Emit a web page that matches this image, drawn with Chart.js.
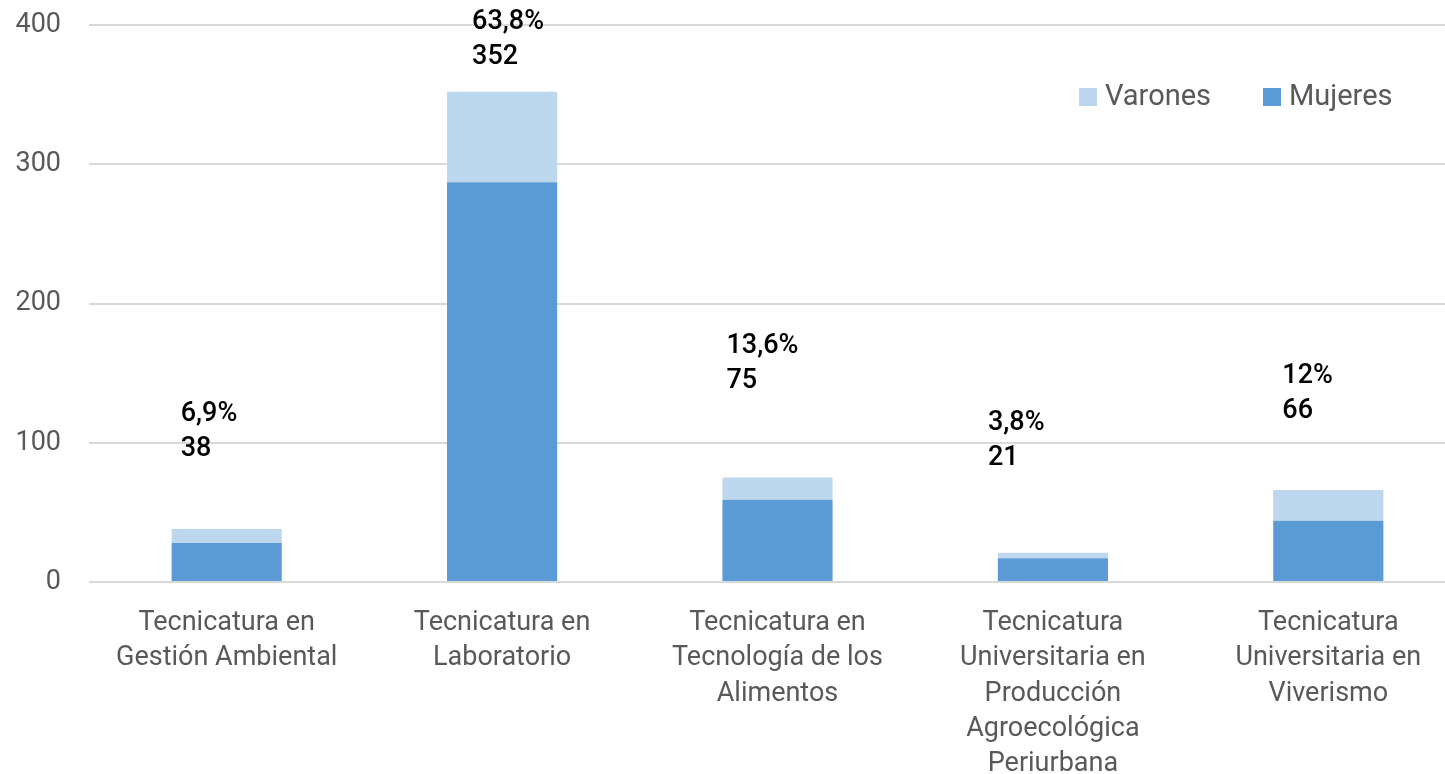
<!DOCTYPE html>
<html>
<head>
<meta charset="utf-8">
<title>Tecnicaturas</title>
<script src="https://cdn.jsdelivr.net/npm/chart.js@4"></script>
<style>
	html, body { margin: 0; padding: 0; background: #fff; overflow: hidden; }
	#Chart_container { width: 1466px; height: 774px; }
</style>
</head>
<body>
<div id="Chart_container">
	<canvas id="myChart"></canvas>
</div>
<script type="text/javascript">
	// datos
	let categorias = [
		["Tecnicatura en", "Gestión Ambiental"],
		["Tecnicatura en", "Laboratorio"],
		["Tecnicatura en", "Tecnología de los", "Alimentos"],
		["Tecnicatura", "Universitaria en", "Producción", "Agroecológica", "Periurbana"],
		["Tecnicatura", "Universitaria en", "Viverismo"]
	];
	let mujeres = [28, 287, 59, 17, 44];
	let varones = [10, 65, 16, 4, 22];
	let totales = [38, 352, 75, 21, 66];
	let porcentajes = ["6,9%", "63,8%", "13,6%", "3,8%", "12%"];
	let yTicks = [0, 100, 200, 300, 400];

	const FONT = "Roboto, 'DejaVu Sans', sans-serif";
	const GRIS = "#595959";

	// etiquetas puestas a mano en el original (desplazamientos en px)
	let etiquetasPlugin = {
		id: 'etiquetas',
		afterDatasetsDraw(chart, args, opts) {
			let ctx = chart.ctx;
			let meta = chart.getDatasetMeta(1);
			ctx.save();
			ctx.fillStyle = "#000";
			ctx.font = "500 27px " + FONT;
			ctx.textAlign = "left";
			ctx.textBaseline = "middle";
			meta.data.forEach(function(bar, i) {
				let x = bar.x + opts.dx[i];
				let y2 = bar.y - opts.dy[i];
				ctx.fillText(porcentajes[i], x, y2 - 35);
				ctx.fillText(String(totales[i]), x, y2);
			});
			ctx.restore();
		}
	};

	let leyendaPlugin = {
		id: 'leyenda',
		afterDraw(chart, args, opts) {
			let ctx = chart.ctx;
			ctx.save();
			ctx.font = "29px " + FONT;
			ctx.textBaseline = "middle";
			ctx.textAlign = "left";
			let orden = [1, 0];
			orden.forEach(function(d, k) {
				let ds = chart.data.datasets[d];
				let x = opts.x[k];
				ctx.fillStyle = ds.backgroundColor;
				ctx.fillRect(x, opts.y - 9, 18, 18);
				ctx.fillStyle = GRIS;
				ctx.fillText(ds.label, x + 26, opts.y + 1);
			});
			ctx.restore();
		}
	};

	let ctx = document.getElementById('myChart');
	let myChart = new Chart(ctx, {
		type: 'bar',
		data: {
			labels: categorias,
			datasets: [
				{ label: "Mujeres", data: mujeres, backgroundColor: "#5B9BD5", borderWidth: 0 },
				{ label: "Varones", data: varones, backgroundColor: "#BDD7EE", borderWidth: 0 }
			]
		},
		plugins: [etiquetasPlugin, leyendaPlugin],
		options: {
			responsive: true,
			maintainAspectRatio: false,
			animation: false,
			categoryPercentage: 1.0,
			barPercentage: 0.4,
			layout: { padding: { top: 25, right: 0, left: 0, bottom: 0 } },
			plugins: {
				legend: { display: false },
				tooltip: { enabled: false },
				etiquetas: { dx: [-46, -30, -51, -65, -46], dy: [80, 35, 96, 95, 79] },
				leyenda: { x: [1079, 1263], y: 97 }
			},
			scales: {
				x: {
					stacked: true,
					grid: { display: false },
					border: { display: false },
					ticks: {
						color: GRIS,
						font: { family: FONT, size: 27, lineHeight: 1.3 },
						padding: 16,
						maxRotation: 0,
						autoSkip: false
					},
					afterFit(scale) { scale.height = 192; }
				},
				y: {
					stacked: true,
					min: 0,
					max: 400,
					afterBuildTicks(scale) { scale.ticks = yTicks.map(v => ({ value: v })); },
					grid: { color: "#D9D9D9", lineWidth: 2, drawTicks: false },
					border: { display: false },
					ticks: {
						color: GRIS,
						font: { family: FONT, size: 27 },
						padding: 28
					},
					afterFit(scale) {
						scale.width = 89;
						scale.paddingTop = 0;
						scale.paddingBottom = 0;
					}
				}
			}
		}
	});
</script>
</body>
</html>
